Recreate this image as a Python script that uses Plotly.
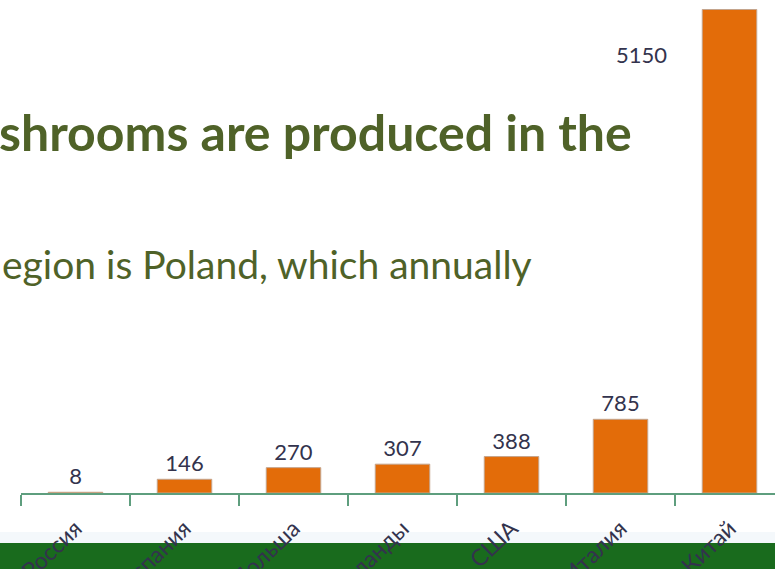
import plotly.graph_objects as go

categories = ["Россия", "Испания", "Польша", "Нидерланды", "США", "Италия", "Китай"]
values = [8, 146, 270, 307, 388, 785, 5150]
title_line = "shrooms are produced in the"
body_line = "egion is Poland, which annually"

BAR = "#E36C09"
AXIS = "#5E9E7E"
LABEL = "#33334D"
OLIVE = "#4F6228"
FONT = "Lato"

W, H = 775, 569
ML, MB = 21, 76

show_text = [str(v) if c != "Китай" else "" for c, v in zip(categories, values)]

fig = go.Figure()
fig.add_trace(go.Bar(
    x=categories, y=values,
    marker=dict(color=BAR, line=dict(color="#C4A48C", width=1)),
    text=show_text, textposition="outside", cliponaxis=False,
    textfont=dict(family=FONT, size=22, color=LABEL),
    width=0.5,
))

# label of the tallest bar placed beside it
big = categories[-1]
fig.add_annotation(x=big, y=values[-1], text=str(values[-1]), showarrow=False,
                   xanchor="right", yanchor="middle", xshift=-61, yshift=-45,
                   font=dict(family=FONT, size=22, color=LABEL))

# slide text (cropped at the left edge)
fig.add_annotation(xref="paper", yref="paper", x=(634 - ML) / (W - ML), y=(493 - 132) / 493,
                   text="<b>" + title_line + "</b>", showarrow=False,
                   xanchor="right", yanchor="middle",
                   font=dict(family=FONT, size=50, color=OLIVE))
fig.add_annotation(xref="paper", yref="paper", x=(534 - ML) / (W - ML), y=(493 - 264) / 493,
                   text=body_line, showarrow=False,
                   xanchor="right", yanchor="middle",
                   font=dict(family=FONT, size=39, color=OLIVE))

# green footer band and faint strip above it
fig.add_shape(type="rect", xref="paper", yref="paper",
              x0=-ML / (W - ML), x1=1, y0=-(532 - 493) / 493, y1=-(543 - 493) / 493,
              fillcolor="#F4F8FB", line_width=0, layer="below")
fig.add_shape(type="rect", xref="paper", yref="paper",
              x0=-ML / (W - ML), x1=1, y0=-(543 - 493) / 493, y1=-(H - 493 + 5) / 493,
              fillcolor="#196B1D", line_width=0, layer="below")

fig.update_layout(
    width=W, height=H,
    margin=dict(l=ML, r=0, t=0, b=MB, pad=0, autoexpand=False),
    paper_bgcolor="white", plot_bgcolor="white",
    showlegend=False,
    xaxis=dict(
        type="category", automargin=False,
        range=[-0.5, -0.5 + (W - ML) / 109],
        showline=True, linecolor=AXIS, linewidth=2,
        ticks="outside", tickson="boundaries", ticklen=11, tickwidth=2, tickcolor=AXIS,
        tickangle=-44, ticklabelstandoff=11,
        tickfont=dict(family=FONT, size=23, color=LABEL),
        showgrid=False, zeroline=False, fixedrange=True,
    ),
    yaxis=dict(visible=False, automargin=False, range=[0, 493 / (483.5 / 5150)], fixedrange=True),
)

fig.write_html("out.html", config={"displayModeBar": False, "staticPlot": True},
               post_script="document.body.style.margin='0';document.body.style.overflow='hidden';")
